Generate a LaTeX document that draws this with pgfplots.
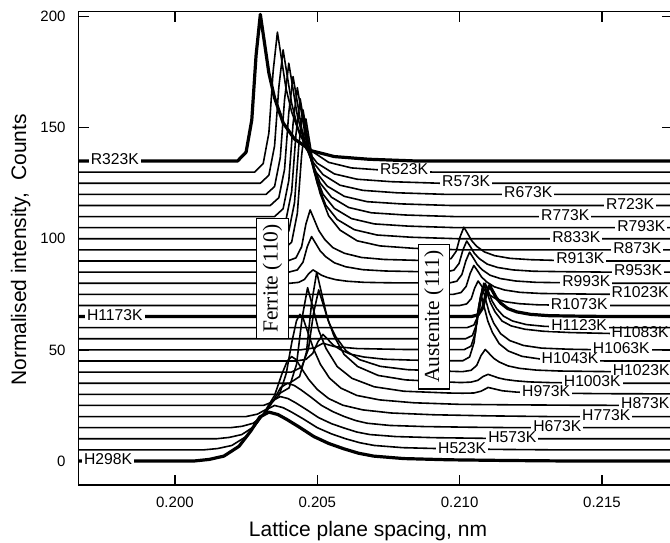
\documentclass[border=0pt]{standalone}
\usepackage{pgfplots}
\pgfplotsset{compat=1.18}
\usepackage{fontspec}
\setmainfont{Liberation Sans}
\newfontfamily\seriffont{Liberation Serif}
\tikzset{
  curve/.style={black, line width=1.6pt, line join=round},
  heavy/.style={black, line width=3.2pt, line join=round},
  lab/.style={fill=white, inner xsep=2pt, inner ysep=0pt, text height=0.72em, text depth=0pt, font=\fontsize{15.7}{16}\selectfont},
  phase/.style={draw, fill=white, line width=1.3pt, rotate=90, inner sep=6pt, font=\seriffont\fontsize{21.5}{24}\selectfont},
}
\begin{document}
\begin{tikzpicture}
\begin{axis}[
  name=ax,
  scale only axis,
  width=593.3pt, height=473.3pt,
  xmin=196.62, xmax=217.46,
  ymin=-10.8, ymax=202.2,
  xtick={200,205,210,215},
  xticklabels={0.200,0.205,0.210,0.215},
  ytick={0,50,100,150,200},
  tick align=inside,
  major tick length=10pt,
  axis line style={line width=1.3pt},
  every tick/.style={black, line width=1.3pt},
  tick label style={font=\fontsize{15}{18}\selectfont},
  /pgf/number format/assume math mode=true,
  xticklabel style={yshift=-8pt},
  yticklabel style={xshift=-9.7pt},
  xlabel={Lattice plane spacing, nm},
  ylabel={Normalised intensity,~~Counts},
  every axis x label/.style={at={(axis description cs:0.4876,-0.097)}, anchor=center, font=\fontsize{21}{24}\selectfont},
  every axis y label/.style={at={(axis description cs:-0.0978,0.4965)}, rotate=90, anchor=center, font=\fontsize{21}{24}\selectfont},
]

% ---- cooling (R) series, top ----
% R323K
\addplot[heavy] coordinates {(196.62,135) (202.2,135) (202.5,139.0) (202.7,153.5) (202.85,182.5) (203.0,201) (203.15,187.8) (203.3,174.6) (203.5,163.4) (203.8,152.2) (204.2,144.9) (204.8,139.6) (205.6,137.0) (206.8,135.8) (208.5,135) (217.46,135)};
% R523K
\addplot[curve] coordinates {(196.62,130) (202.8,130) (203.1,133.8) (203.3,147.6) (203.45,175.4) (203.6,193) (203.75,180.4) (203.9,167.8) (204.1,157.1) (204.4,146.4) (204.8,139.5) (205.4,134.4) (206.2,131.9) (207.4,130.8) (209.1,130) (217.46,130)};
% R573K
\addplot[curve] coordinates {(196.62,125) (203.0,125) (203.3,128.6) (203.5,141.8) (203.65,168.2) (203.8,185) (203.95,173) (204.1,161) (204.3,150.8) (204.6,140.6) (205.0,134) (205.6,129.2) (206.4,126.8) (207.6,125.7) (209.3,125) (217.46,125)};
% R673K
\addplot[curve] coordinates {(196.62,120) (203.2,120) (203.5,123.5) (203.7,136.5) (203.85,162.5) (204.0,179) (204.15,167.2) (204.3,155.4) (204.5,145.4) (204.8,135.3) (205.2,128.9) (205.8,124.1) (206.6,121.8) (207.8,120.7) (209.5,120) (217.46,120)};
% R723K
\addplot[curve] coordinates {(196.62,115) (203.35,115) (203.65,118.5) (203.85,131.2) (204.0,156.8) (204.15,173) (204.3,161.4) (204.45,149.8) (204.65,139.9) (204.95,130.1) (205.35,123.7) (205.95,119.1) (206.75,116.7) (207.95,115.7) (209.65,115) (217.46,115)};
% R773K
\addplot[curve] coordinates {(196.62,110) (203.5,110) (203.8,113.5) (204.0,126.2) (204.15,151.8) (204.3,168) (204.45,156.4) (204.6,144.8) (204.8,134.9) (205.1,125.1) (205.5,118.7) (206.1,114.1) (206.9,111.7) (208.1,110.7) (209.8,110) (217.46,110)};
% R793K
\addplot[curve] coordinates {(196.62,105) (203.6,105) (203.9,108.5) (204.1,121.2) (204.25,146.8) (204.4,163) (204.55,151.4) (204.7,139.8) (204.9,129.9) (205.2,120.1) (205.6,113.7) (206.2,109.1) (207.0,106.7) (208.2,105.7) (209.9,105) (217.46,105)};
% R833K
\addplot[curve] coordinates {(196.62,100) (203.7,100) (204.0,103.5) (204.2,116.2) (204.35,141.8) (204.5,158) (204.65,146.4) (204.8,134.8) (205.0,124.9) (205.3,115.1) (205.7,108.7) (206.3,104.1) (207.1,101.7) (208.3,100.7) (210.0,100) (217.46,100)};
% R873K
\addplot[curve] coordinates {(196.62,95) (203.8,95) (204.1,98.5) (204.3,111.5) (204.45,137.5) (204.6,154) (204.75,142.2) (204.9,130.4) (205.1,120.4) (205.4,110.3) (205.8,103.9) (206.4,99.1) (207.2,96.8) (208.4,95.7) (210.1,95) (217.46,95)};
% R913K
\addplot[curve] coordinates {(196.62,90) (203.95,90) (204.25,91.4) (204.45,96.4) (204.6,106.6) (204.75,113) (204.9,108.4) (205.05,103.8) (205.25,99.9) (205.55,96) (205.95,93.5) (206.55,91.6) (207.35,90.7) (208.5,90.3)
  (209.43,90.2) (209.7,91.1) (209.88,94.4) (210.02,101) (210.15,105.2) (210.29,102.2) (210.42,99.2) (210.6,96.6) (210.87,94.1) (211.23,92.4) (211.77,91.2) (212.49,90.6) (213.57,90.2) (215.1,90) (217.46,90)};
% R953K
\addplot[curve] coordinates {(196.62,85) (204.0,85) (204.3,86) (204.5,89.5) (204.65,96.5) (204.8,101) (204.95,97.8) (205.1,94.6) (205.3,91.9) (205.6,89.2) (206.0,87.4) (206.6,86.1) (207.4,85.5) (208.6,85.2)
  (209.53,85.1) (209.8,85.9) (209.98,88.9) (210.12,95.1) (210.25,99) (210.39,96.2) (210.52,93.4) (210.7,91) (210.97,88.6) (211.33,87.1) (211.87,86) (212.59,85.4) (213.67,85.2) (215.2,85) (217.46,85)};
% R993K
\addplot[curve] coordinates {(196.62,80) (204.05,80) (204.35,80.4) (204.55,81.7) (204.7,84.3) (204.85,86) (205.0,84.8) (205.15,83.6) (205.35,82.6) (205.65,81.6) (206.05,80.9) (206.65,80.4) (207.5,80.2)
  (209.63,80.1) (209.9,80.9) (210.08,83.9) (210.22,90.1) (210.35,94) (210.49,91.2) (210.62,88.4) (210.8,86) (211.07,83.6) (211.43,82.1) (211.97,81) (212.69,80.4) (213.77,80.2) (215.3,80) (217.46,80)};
% R1023K
\addplot[curve] coordinates {(196.62,75) (209.78,75) (210.05,75.8) (210.23,78.6) (210.37,84.4) (210.5,88) (210.64,85.4) (210.77,82.8) (210.95,80.6) (211.22,78.4) (211.58,76.95) (212.12,75.9) (212.84,75.4) (213.92,75.2) (215.45,75) (217.46,75)};
% R1073K
\addplot[curve] coordinates {(196.62,70) (210.01,70) (210.25,70.7) (210.41,73.1) (210.53,77.9) (210.65,81) (210.77,78.8) (210.89,76.6) (211.05,74.7) (211.29,72.9) (211.61,71.65) (212.09,70.8) (212.73,70.3) (213.69,70.1) (215.05,70) (217.46,70)};

% ---- heating (H) series ----
% H1173K
\addplot[heavy] coordinates {(196.62,65) (210.41,65) (210.65,65.8) (210.81,68.9) (210.93,75.1) (211.05,79) (211.17,76.2) (211.29,73.4) (211.45,71) (211.69,68.6) (212.01,67.1) (212.49,66) (213.13,65.4) (214.09,65.2) (215.45,65) (217.46,65)};
% H1123K
\addplot[curve] coordinates {(196.62,60) (210.26,60) (210.5,61.2) (210.66,65.6) (210.78,74.4) (210.9,80) (211.02,76) (211.14,72) (211.3,68.6) (211.54,65.2) (211.86,63) (212.34,61.4) (212.98,60.6) (213.94,60.24) (215.3,60) (217.46,60)};
% H1083K
\addplot[curve] coordinates {(196.62,55) (210.21,55) (210.45,56.5) (210.61,62) (210.73,73) (210.85,80) (210.97,75.5) (211.09,71) (211.25,67) (211.49,63) (211.81,60.8) (212.29,59.3) (212.93,58.4) (213.89,57.8) (215.25,57.4) (217.46,57.1)};
% H1063K
\addplot[curve] coordinates {(196.62,50) (204.4,50) (204.9,50.9) (205.2,53) (205.6,51.5) (206.4,50.6) (208.0,50.2)
  (210.16,50.1) (210.4,51.7) (210.56,57.8) (210.68,70.2) (210.8,78) (210.92,72.4) (211.04,66.8) (211.2,62) (211.44,57.3) (211.76,54.2) (212.24,52) (212.88,50.8) (213.84,50.3) (215.2,50) (217.46,50)};
% H1043K
\addplot[curve] coordinates {(196.62,45) (204.24,45) (204.6,45.7) (204.84,48.4) (205.02,53.6) (205.2,57) (205.38,54.6) (205.56,52.2) (205.8,50.2) (206.16,48.1) (206.64,46.8) (207.36,45.8) (208.32,45.4) (209.76,45.1)
  (210.11,45.1) (210.35,46.8) (210.51,53.4) (210.63,66.6) (210.75,75) (210.87,69) (210.99,63) (211.15,57.9) (211.39,52.8) (211.71,49.5) (212.19,47.1) (212.83,45.9) (213.79,45.4) (215.15,45) (217.46,45)};
% H1023K
\addplot[curve] coordinates {(196.62,40) (204.09,40) (204.45,42.2) (204.69,50.4) (204.87,66.6) (205.05,77) (205.23,69.6) (205.41,62.2) (205.65,55.9) (206.01,49.6) (206.49,45.6) (207.21,42.6) (208.17,41.1) (209.61,40.4)
  (210.1,40.2) (210.4,40.8) (210.6,43) (210.75,47.4) (210.9,50.2) (211.05,48.2) (211.2,46.2) (211.4,44.5) (211.7,42.8) (212.1,41.7) (212.7,40.9) (213.5,40.5) (214.7,40.3) (216.4,40.1) (217.46,40)};
% H1003K
\addplot[curve] coordinates {(196.62,35) (204.02,35) (204.38,38) (204.62,49) (204.8,71) (204.98,85) (205.16,75) (205.34,65) (205.58,56.5) (205.94,48) (206.42,42.5) (207.14,38.5) (208.1,36.5) (209.54,35.6)
  (210.04,35.3) (210.4,35.5) (210.64,36.3) (210.82,38) (211.0,39) (211.18,38.2) (211.36,37.4) (211.6,36.7) (211.96,36.1) (212.44,35.6) (213.16,35.3) (215,35) (217.46,35)};
% H973K
\addplot[curve] coordinates {(196.62,30) (203.62,30) (204.01,32.9) (204.27,43.4) (204.47,64.6) (204.66,78) (204.86,68.4) (205.05,58.8) (205.31,50.6) (205.7,42.5) (206.22,37.2) (207.0,33.4) (208.04,31.4) (209.6,30.6)
  (210.1,30.5) (210.5,30.6) (210.75,31.4) (210.9,32.4) (211.0,33.1) (211.2,32.5) (211.5,31.6) (212.0,31) (213.0,30.6) (215,30.3) (217.46,30.2)};
% H873K
\addplot[curve] coordinates {(196.62,25) (203.11,25) (203.43,26.6) (203.67,29.9) (203.91,39.4) (204.11,53.7) (204.27,63.1) (204.39,66) (204.51,64) (204.67,57.8) (204.87,50.4) (205.11,43.5) (205.43,37.3) (205.83,32.8) (206.39,29.5) (207.19,27.5) (208.39,26.2) (209.99,25.5) (211.6,25.3) (214,25.1) (217.46,25)};
% H773K
\addplot[curve] coordinates {(196.62,20) (202.5,20) (202.9,21.1) (203.2,23.2) (203.5,29.5) (203.75,38.9) (203.95,45.1) (204.1,47) (204.25,45.7) (204.45,41.6) (204.7,36.7) (205.0,32.2) (205.4,28.1) (205.9,25.1) (206.6,23) (207.6,21.6) (209.1,20.8) (211.1,20.3) (213.1,20) (217.46,20)};
% H673K
\addplot[curve] coordinates {(196.62,15) (201.95,15) (202.35,15.6) (202.75,17) (203.15,21) (203.47,27.4) (203.71,33) (203.95,35) (204.19,34) (204.43,32) (204.75,29) (205.15,25) (205.55,22.2) (205.95,20) (206.35,18.2) (206.75,17) (207.55,16) (208.75,15.5) (210.35,15.2) (211.95,15) (217.46,15)};
% H573K
\addplot[curve] coordinates {(196.62,10) (201.45,10) (201.9,10.6) (202.35,11.9) (202.8,15.7) (203.16,21.8) (203.43,27.1) (203.7,29) (203.97,28.1) (204.24,26.2) (204.6,23.3) (205.05,19.5) (205.5,16.8) (205.95,14.8) (206.4,13) (206.85,11.9) (207.75,11) (209.1,10.5) (210.9,10.2) (212.7,10) (217.46,10)};
% H523K
\addplot[curve] coordinates {(196.62,5) (201.0,5) (201.5,5.6) (202.0,7) (202.5,11) (202.9,17.4) (203.2,23) (203.5,25) (203.8,24) (204.1,22) (204.5,19) (205.0,15) (205.5,12.2) (206.0,10) (206.5,8.2) (207.0,7) (208.0,6) (209.5,5.5) (211.5,5.2) (213.5,5) (217.46,5)};
% H298K
\addplot[heavy] coordinates {(196.62,0) (200.67,0) (201.2,0.7) (201.72,2.2) (202.25,6.6) (202.67,13.6) (202.98,19.8) (203.3,22) (203.62,20.9) (203.93,18.7) (204.35,15.4) (204.88,11) (205.4,7.9) (205.93,5.5) (206.45,3.5) (206.98,2.2) (208.03,1.1) (209.6,0.55) (211.7,0.22) (213.8,0) (217.46,0)};

% ---- curve labels ----
\node[lab] at (axis cs:197.89,135) {R323K};
\node[lab] at (axis cs:208.05,130.6) {R523K};
\node[lab] at (axis cs:210.23,125) {R573K};
\node[lab] at (axis cs:212.41,120) {R673K};
\node[lab] at (axis cs:215.99,115) {R723K};
\node[lab] at (axis cs:213.71,110) {R773K};
\node[lab] at (axis cs:216.38,105) {R793K};
\node[lab] at (axis cs:214.10,100) {R833K};
\node[lab] at (axis cs:216.24,95) {R873K};
\node[lab] at (axis cs:214.24,90.3) {R913K};
\node[lab] at (axis cs:216.27,85) {R953K};
\node[lab] at (axis cs:214.45,80.2) {R993K};
\node[lab] at (axis cs:216.34,75) {R1023K};
\node[lab] at (axis cs:214.20,70) {R1073K};
\node[lab] at (axis cs:197.89,65) {H1173K};
\node[lab] at (axis cs:214.20,60.2) {H1123K};
\node[lab] at (axis cs:216.34,57.2) {H1083K};
\node[lab] at (axis cs:215.68,50) {H1063K};
\node[lab] at (axis cs:213.88,45.4) {H1043K};
\node[lab] at (axis cs:216.38,40.1) {H1023K};
\node[lab] at (axis cs:214.66,35.2) {H1003K};
\node[lab] at (axis cs:213.04,30.6) {H973K};
\node[lab] at (axis cs:216.52,25.1) {H873K};
\node[lab] at (axis cs:215.15,20) {H773K};
\node[lab] at (axis cs:213.43,15) {H673K};
\node[lab] at (axis cs:211.85,10) {H573K};
\node[lab] at (axis cs:210.09,5.2) {H523K};
\node[lab] at (axis cs:197.65,0) {H298K};

% ---- phase boxes ----
\node[phase] at (axis cs:203.43,82.1) {Ferrite (110)};
\node[phase] at (axis cs:209.10,65.0) {Austenite (111)};
\end{axis}
\pgfresetboundingbox
\path[use as bounding box] ([xshift=-78.7pt,yshift=-58pt]ax.south west) rectangle ([xshift=-2pt,yshift=11.7pt]ax.north east);
\end{tikzpicture}
\end{document}
